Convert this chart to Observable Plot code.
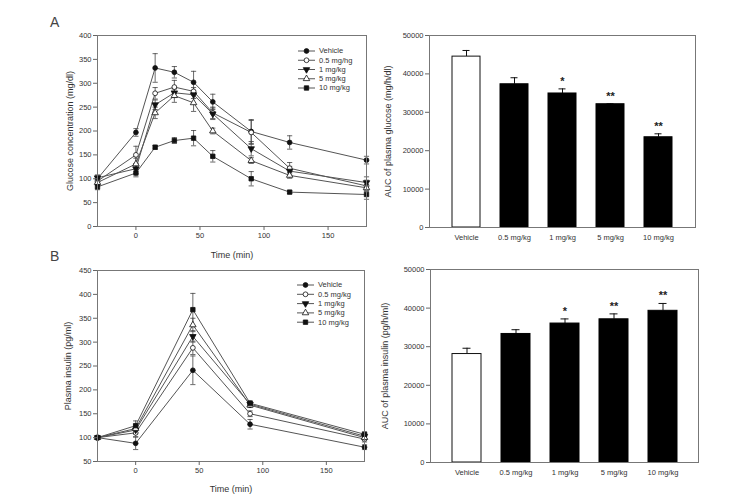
<!DOCTYPE html>
<html>
<head>
<meta charset="utf-8">
<script src="https://cdn.jsdelivr.net/npm/d3@7"></script>
<script src="https://cdn.jsdelivr.net/npm/@observablehq/plot@0.6"></script>
<style>
  body { margin: 0; background: #fff; }
  #fig { position: relative; width: 755px; height: 495px; overflow: hidden; background: #fff;
         font-family: "Liberation Sans", Arial, sans-serif; color: #333; }
  #fig > svg, #fig > div { position: absolute; }
  .plabel { font-size: 14px; color: #444; line-height: 1; }
</style>
</head>
<body>
<div id="fig"></div>
<script>
// ---------------- data ----------------
const groups = ["Vehicle", "0.5 mg/kg", "1 mg/kg", "5 mg/kg", "10 mg/kg"];
const glucoseLegendLabels = ["Vehicle", "0.5 mg/hg", "1 mg/kg", "5 mg/kg", "10 mg/kg"];
const insulinLegendLabels = ["Vehicle", "0.5 mg/kg", "1 mg/kg", "5 mg/kg", "10 mg/kg"];

// Panel A (left): glucose concentration (mg/dl) over time (min)
const glucoseTimes = [-30, 0, 15, 30, 45, 60, 90, 120, 180];
const glucoseVehicle = [100, 197, 332, 323, 302, 261, 199, 176, 139];
const glucose05 = [95, 150, 279, 292, 283, 238, 197, 122, 85];
const glucose1 = [102, 121, 255, 280, 276, 236, 163, 116, 92];
const glucose5 = [92, 131, 238, 274, 259, 200, 138, 107, 81];
const glucose10 = [83, 112, 166, 180, 185, 147, 100, 72, 67];
const glucoseVehicleErr = [8, 8, 30, 12, 23, 16, 25, 14, 8];
const glucose05Err = [6, 18, 12, 14, 8, 12, 25, 12, 12];
const glucose1Err = [5, 10, 10, 10, 8, 12, 15, 10, 12];
const glucose5Err = [6, 12, 12, 14, 18, 6, 6, 6, 6];
const glucose10Err = [6, 8, 4, 6, 16, 12, 15, 3, 10];

// Panel A (right): AUC of plasma glucose
const glucoseAUC = [44500, 37300, 34900, 32100, 23500];
const glucoseAUCErr = [1600, 1700, 1200, 100, 900];
const glucoseSig = ["", "", "*", "**", "**"];

// Panel B (left): plasma insulin (pg/ml) over time (min)
const insulinTimes = [-30, 0, 45, 90, 180];
const insulinVehicle = [100, 88, 241, 128, 80];
const insulin05 = [100, 110, 288, 150, 97];
const insulin1 = [100, 116, 312, 170, 103];
const insulin5 = [100, 119, 336, 168, 100];
const insulin10 = [100, 125, 368, 172, 107];
const insulinVehicleErr = [0, 13, 30, 10, 5];
const insulin05Err = [0, 8, 14, 6, 6];
const insulin1Err = [0, 8, 12, 5, 5];
const insulin5Err = [0, 8, 14, 5, 5];
const insulin10Err = [0, 10, 34, 5, 5];

// Panel B (right): AUC of plasma insulin
const insulinAUC = [28100, 33300, 36000, 37100, 39300];
const insulinAUCErr = [1500, 1100, 1200, 1400, 1900];
const insulinSig = ["", "", "*", "**", "**"];

// tick labels
const timeTicks = [0, 50, 100, 150];
const glucoseTicks = [0, 50, 100, 150, 200, 250, 300, 350, 400];
const insulinTicks = [50, 100, 150, 200, 250, 300, 350, 400, 450];
const aucTicks = [0, 10000, 20000, 30000, 40000, 50000];

// ---------------- styling ----------------
const groupSymbols = ["circle", "circle", "triangle", "triangle", "square"];
const groupFills = ["#111", "white", "#111", "white", "#111"];
const groupRotate = [0, 0, 180, 0, 0];
const FONT = "Liberation Sans, Arial, sans-serif";
const capSymbol = { draw(ctx, size) { const w = Math.sqrt(size / Math.PI); ctx.moveTo(-w, 0); ctx.lineTo(w, 0); } };

function lineRows(times, values, errs) {
  const rows = [];
  groups.forEach((g, i) => times.forEach((t, j) => rows.push({ gi: i, group: g, t, v: values[i][j], e: errs[i][j] })));
  return rows;
}
function barRows(values, errs, sig) {
  return groups.map((g, i) => ({ group: g, v: values[i], e: errs[i], sig: sig[i] }));
}

function linePlot(o) {
  const rows = o.rows;
  const withErr = rows.filter(d => d.e > 0);
  const marks = [
    Plot.ruleX(withErr, { x: "t", y1: d => d.v - d.e, y2: d => d.v + d.e, stroke: "#444", strokeWidth: 0.8 }),
    Plot.dot(withErr, { x: "t", y: d => d.v + d.e, symbol: capSymbol, r: 2.6, fill: "none", stroke: "#444", strokeWidth: 0.8 }),
    Plot.dot(withErr, { x: "t", y: d => d.v - d.e, symbol: capSymbol, r: 2.6, fill: "none", stroke: "#444", strokeWidth: 0.8 })
  ];
  groups.forEach((g, i) => {
    marks.push(Plot.line(rows.filter(d => d.gi === i), { x: "t", y: "v", stroke: "#555", strokeWidth: 1 }));
  });
  groups.forEach((g, i) => {
    marks.push(Plot.dot(rows.filter(d => d.gi === i), {
      x: "t", y: "v", symbol: groupSymbols[i], fill: groupFills[i], stroke: "#111",
      strokeWidth: 0.8, r: groupSymbols[i] === "square" ? 2.5 : 2.4, rotate: groupRotate[i]
    }));
  });
  marks.push(
    Plot.frame({ stroke: "#777" }),
    Plot.axisX({ ticks: timeTicks, tickSize: 4, tickPadding: 2, label: null, fontSize: 7.5, stroke: "#666" }),
    Plot.axisX({ ticks: [], tickSize: 0, label: "Time (min)", labelAnchor: "center", labelArrow: "none", labelOffset: o.xLabelOffset, fontSize: 9 }),
    Plot.axisY({ ticks: o.yTicks, tickSize: 4, tickPadding: 2, label: null, fontSize: 7.5, stroke: "#666" }),
    Plot.axisY({ ticks: [], tickSize: 0, label: o.yLabel, labelAnchor: "center", labelArrow: "none", labelOffset: o.yLabelOffset, fontSize: 9 })
  );
  return Plot.plot({
    width: o.width, height: o.height,
    marginLeft: o.m[3], marginTop: o.m[0], marginRight: o.m[1], marginBottom: o.m[2],
    style: { fontFamily: FONT, color: "#333", background: "transparent" },
    x: { domain: [-30, 180] },
    y: { domain: o.yDomain },
    marks
  });
}

function barPlot(o) {
  const rows = o.rows;
  return Plot.plot({
    width: o.width, height: o.height,
    marginLeft: o.m[3], marginTop: o.m[0], marginRight: o.m[1], marginBottom: o.m[2],
    style: { fontFamily: FONT, color: "#333", background: "transparent" },
    x: { domain: groups, paddingInner: 0.41, paddingOuter: 0.42 },
    y: { domain: [0, 50000] },
    marks: [
      Plot.ruleX(rows, { x: "group", y1: "v", y2: d => d.v + d.e, stroke: "#111", strokeWidth: 1 }),
      Plot.tickY(rows, { x: "group", y: d => d.v + d.e, inset: 10.5, stroke: "#111", strokeWidth: 1 }),
      Plot.barY(rows, { filter: d => d.group === "Vehicle", x: "group", y: "v", fill: "white", stroke: "#111", strokeWidth: 1 }),
      Plot.barY(rows, { filter: d => d.group !== "Vehicle", x: "group", y: "v", fill: "#000", stroke: "#000", strokeWidth: 1 }),
      Plot.text(rows, { x: "group", y: d => d.v + d.e, text: "sig", dy: -4, lineAnchor: "bottom", fontSize: 11, fontWeight: "bold", fill: "#222" }),
      Plot.frame({ stroke: "#777" }),
      Plot.axisX({ tickSize: 0, tickPadding: 7, label: null, fontSize: 7.5 }),
      Plot.axisY({ ticks: aucTicks, tickSize: 4, tickPadding: 2, tickFormat: d3.format("d"), label: null, fontSize: 7.5, stroke: "#666" }),
      Plot.axisY({ ticks: [], tickSize: 0, label: o.yLabel, labelAnchor: "center", labelArrow: "none", labelOffset: o.yLabelOffset, fontSize: 9 })
    ]
  });
}

function legend(svgNode, labels, x0, y0, step) {
  const svg = d3.select(svgNode);
  const g = svg.append("g").attr("font-family", FONT).attr("font-size", 7.5)
    .attr("fill", "#333").attr("text-anchor", "start");
  labels.forEach((lab, i) => {
    const y = y0 + i * step;
    g.append("line").attr("x1", x0).attr("x2", x0 + 17).attr("y1", y).attr("y2", y).attr("stroke", "#555");
    const type = groupSymbols[i] === "circle" ? d3.symbolCircle : groupSymbols[i] === "square" ? d3.symbolSquare : d3.symbolTriangle;
    const r = groupSymbols[i] === "square" ? 2.5 : 2.4;
    g.append("path").attr("d", d3.symbol(type, r * r * Math.PI)())
      .attr("transform", `translate(${x0 + 8.5},${y}) rotate(${groupRotate[i]})`)
      .attr("fill", groupFills[i]).attr("stroke", "#111").attr("stroke-width", 0.8);
    g.append("text").attr("x", x0 + 21).attr("y", y).attr("dy", "0.32em").attr("text-anchor", "start").text(lab);
  });
}

const fig = document.getElementById("fig");
function place(node, left, top) { node.style.left = left + "px"; node.style.top = top + "px"; fig.appendChild(node); return node; }

// A left
const gA = linePlot({
  rows: lineRows(glucoseTimes, [glucoseVehicle, glucose05, glucose1, glucose5, glucose10],
    [glucoseVehicleErr, glucose05Err, glucose1Err, glucose5Err, glucose10Err]),
  yDomain: [0, 400], yTicks: glucoseTicks, yLabel: "Glucose concentration (mg/dl)",
  width: 380, height: 262, m: [35, 14, 36, 97], xLabelOffset: 31, yLabelOffset: 31
});
place(gA, 0, 0);
legend(gA, glucoseLegendLabels, 298, 51, 9.25);

// A right
const bA = barPlot({
  rows: barRows(glucoseAUC, glucoseAUCErr, glucoseSig), yLabel: "AUC of plasma glucose (mg/h/dl)",
  width: 340, height: 262, m: [35, 15, 35, 59], yLabelOffset: 45
});
place(bA, 370, 0);

// B left
const gB = linePlot({
  rows: lineRows(insulinTimes, [insulinVehicle, insulin05, insulin1, insulin5, insulin10],
    [insulinVehicleErr, insulin05Err, insulin1Err, insulin5Err, insulin10Err]),
  yDomain: [50, 450], yTicks: insulinTicks, yLabel: "Plasma insulin (pg/ml)",
  width: 380, height: 255, m: [30, 16, 34, 97], xLabelOffset: 30, yLabelOffset: 33
});
place(gB, 0, 240);
legend(gB, insulinLegendLabels, 297, 45, 9.3);

// B right
const bB = barPlot({
  rows: barRows(insulinAUC, insulinAUCErr, insulinSig), yLabel: "AUC of plasma insulin (pg/h/ml)",
  width: 340, height: 255, m: [29, 12, 33, 60], yLabelOffset: 49
});
place(bB, 370, 240);

// panel letters
const la = document.createElement("div"); la.className = "plabel"; la.textContent = "A"; place(la, 50, 15);
const lb = document.createElement("div"); lb.className = "plabel"; lb.textContent = "B"; place(lb, 50, 249);
</script>
</body>
</html>
